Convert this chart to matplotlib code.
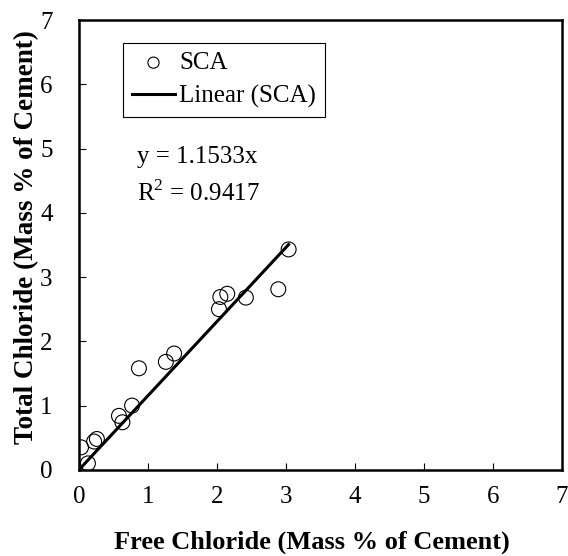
import matplotlib.pyplot as plt
import numpy as np

# free vs total chloride, mass % of cement
free_cl = [3.04, 2.89, 2.42, 2.15, 2.05, 2.03, 1.38, 1.26, 0.87, 0.77, 0.58, 0.63, 0.26, 0.22, 0.03, 0.13]
total_cl = [3.43, 2.81, 2.68, 2.74, 2.69, 2.50, 1.81, 1.68, 1.58, 1.00, 0.84, 0.74, 0.48, 0.44, 0.35, 0.10]
slope = 1.1533
r2 = 0.9417
ticks = list(range(0, 8))

plt.rcParams['font.family'] = ['Liberation Serif', 'DejaVu Serif']
plt.rcParams['mathtext.fontset'] = 'custom'
plt.rcParams['mathtext.rm'] = 'Liberation Serif'

fig = plt.figure(figsize=(5.68, 5.56), dpi=100)
ax = fig.add_axes([0.139, 0.155, 0.850, 0.809])

ax.scatter(free_cl, total_cl, s=115, facecolors='none', edgecolors='black',
           linewidths=0.8, label='SCA', zorder=3)
xfit = np.array([0, max(free_cl)])
ax.plot(xfit, slope * xfit, color='black', lw=2.2, label='Linear (SCA)', zorder=2)

ax.set_xlim(0, 7)
ax.set_ylim(0, 7)
ax.set_xticks(ticks)
ax.set_yticks(ticks)
ax.tick_params(direction='in', length=5, width=0.8, labelsize=18, top=False, right=False)
ax.tick_params(axis='x', pad=12)
ax.tick_params(axis='y', pad=19)
for s in ax.spines.values():
    s.set_linewidth(1.8)

ax.set_xlabel('Free Chloride (Mass % of Cement)', fontsize=19, fontweight='bold', labelpad=16)
ax.xaxis.set_label_coords(0.483, -0.135)
ax.set_ylabel('Total Chloride (Mass % of Cement)', fontsize=19.5, fontweight='bold', labelpad=1)
ax.yaxis.label.set_y(0.518)

leg = ax.legend(loc='upper left', bbox_to_anchor=(0.091, 0.949), borderaxespad=0,
                fancybox=False, edgecolor='black', fontsize=18, framealpha=1,
                handlelength=1.75, handletextpad=0.15, markerscale=0.75, borderpad=0.35,
                labelspacing=0.42)
leg.get_frame().set_linewidth(0.8)

ax.text(0.12, 0.683, f'y = {slope}x', transform=ax.transAxes, fontsize=18)
ax.text(0.12, 0.597, f'R$^2$ = {r2}', transform=ax.transAxes, fontsize=18)

plt.savefig('out.png', dpi=100)
